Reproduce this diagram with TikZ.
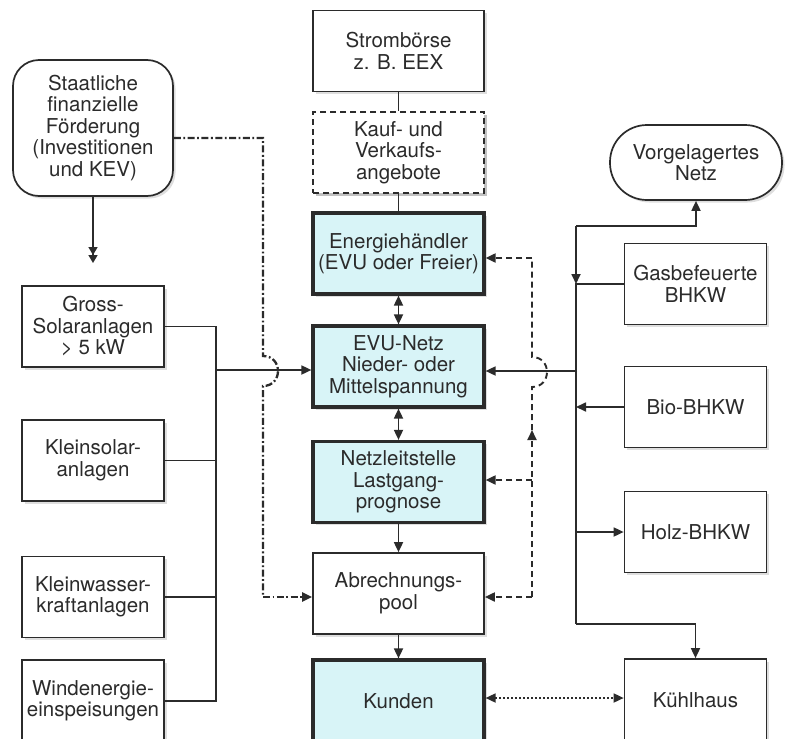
\documentclass[tikz,border=0pt]{standalone}
\usepackage{fontspec}
\setmainfont{TeX Gyre Heros}
\usetikzlibrary{arrows.meta,shadows}
\definecolor{ink}{HTML}{2B2B2B}
\definecolor{boxblue}{RGB}{216,244,247}
\begin{document}
\begin{tikzpicture}[x=1pt,y=-1pt,
  >={Triangle[length=10pt,width=9pt]},
  every node/.style={text=ink, font=\fontsize{20.5}{21.5}\selectfont, align=center, inner sep=0pt},
  shad/.style={drop shadow={shadow xshift=2.5pt,shadow yshift=-2.5pt,fill=black,opacity=0.13}},
  plainbox/.style={draw=ink, line width=1.7pt, fill=white, minimum width=142pt, minimum height=81pt, shad},
  centerbox/.style={plainbox, minimum width=171pt},
  bluebox/.style={centerbox, line width=3.2pt, fill=boxblue},
  dashbox/.style={centerbox, dashed, dash pattern=on 6pt off 4pt, line width=1.5pt, shad},
  roundbox/.style={plainbox, rounded corners=26pt, minimum width=160pt, minimum height=136pt},
  stadium/.style={plainbox, rounded corners=37pt, minimum width=172pt, minimum height=75pt},
  conn/.style={draw=ink, line width=1.7pt},
  dline/.style={draw=ink, line width=1.9pt, dash pattern=on 6pt off 4pt},
  ddline/.style={draw=ink, line width=2.3pt, dash pattern=on 7pt off 2.5pt on 1.8pt off 2.5pt},
  dotline/.style={draw=ink, line width=1.7pt, dash pattern=on 2pt off 2pt}
]
\fill[white] (0,0) rectangle (785,739);
\useasboundingbox (0,0) rectangle (785,739);

% centre column
\node[centerbox] (strom) at (398.5,51) {Strombörse\\z. B. EEX};
\node[dashbox] (kauf) at (398.5,152.5) {Kauf- und\\Verkaufs-\\angebote};
\node[bluebox] (energie) at (398.5,253.5) {Energiehändler\\(EVU oder Freier)};
\node[bluebox] (evu) at (398.5,366.5) {EVU-Netz\\Nieder- oder\\Mittelspannung};
\node[bluebox] (netz) at (398.5,482) {Netzleitstelle\\Lastgang-\\prognose};
\node[centerbox] (abrech) at (398.5,593.5) {Abrechnungs-\\pool};
\node[bluebox, minimum height=82pt] (kunden) at (398.5,701) {Kunden};

% left column
\node[roundbox] (staat) at (93,128) {Staatliche\\finanzielle\\Förderung\\(Investitionen\\und KEV)};
\node[plainbox] (gross) at (93,326.5) {Gross-\\Solaranlagen\\> 5 kW};
\node[plainbox] (ksolar) at (93,460.5) {Kleinsolar-\\anlagen};
\node[plainbox] (kwasser) at (93,597) {Kleinwasser-\\kraftanlagen};
\node[plainbox, minimum height=82pt] (wind) at (93,701) {Windenergie-\\einspeisungen};

% right column
\node[stadium] (vorg) at (696,162.5) {Vorgelagertes\\Netz};
\node[plainbox] (gas) at (695.5,284) {Gasbefeuerte\\BHKW};
\node[plainbox] (bio) at (695.5,407) {Bio-BHKW};
\node[plainbox] (holz) at (695.5,532) {Holz-BHKW};
\node[plainbox, minimum height=82pt] (kuehl) at (695.5,700) {Kühlhaus};

% coordinates
\coordinate (sEnd) at (93,263);
\coordinate (lbTop) at (216,326.5);
\coordinate (lbIn) at (216,370);
\coordinate (lbBot) at (216,701);
\coordinate (ddA) at (263,138);
\coordinate (ddB) at (263,597);
\coordinate (dR1) at (532,258);
\coordinate (dR2) at (532,480);
\coordinate (dR3) at (532,597);
\coordinate (dRm) at (532,430);
\coordinate (rbTop) at (576,226);
\coordinate (rbGas) at (576,284);
\coordinate (rbIn) at (577,371);
\coordinate (rbBio) at (576,407);
\coordinate (rbHolz) at (576,532);
\coordinate (rbBot) at (576,624);

% centre connectors
\draw[conn] (strom.south) -- (kauf.north);
\draw[conn] (kauf.south) -- (energie.north);
\draw[conn,<->] (energie.south) -- (evu.north);
\draw[conn,<->] (evu.south) -- (netz.north);
\draw[conn,->] (netz.south) -- (abrech.north);
\draw[conn,->] (abrech.south) -- (kunden.north);
\draw[dotline,<->] (kunden.east |- 0,698) -- (kuehl.west |- 0,698);

% left connectors
\draw[conn,-{Triangle[length=8pt,width=9pt]Triangle[length=8pt,width=9pt]}] (staat.south) -- (sEnd);
\draw[conn] (gross.east |- lbTop) -- (lbTop) -- (lbBot) -- (wind.east |- lbBot);
\draw[conn] (ksolar.east) -- (ksolar.east -| lbTop);
\draw[conn] (kwasser.east) -- (kwasser.east -| lbTop);
\draw[conn,->] (lbIn) -- (evu.west |- lbIn);

% dash-dot line with hop
\draw[ddline] ([yshift=-10pt]staat.east) -- (ddA) -- (263,356)
  .. controls (283,356) and (283,386) .. (263,386) -- (ddB);
\draw[ddline,->] (ddB) -- (abrech.west |- ddB);

% right dashed feedback line with hop
\draw[dline,->] (dR3) -- (dRm);
\draw[dline] (dRm) -- (532,387)
  .. controls (552,387) and (552,357) .. (532,357) -- (dR1);
\draw[dline,->] (dR1) -- (energie.east |- dR1);
\draw[dline,->] (dR2) -- (netz.east |- dR2);
\draw[dline,->] (dR3) -- (abrech.east |- dR3);

% right bus
\draw[conn,->] (rbTop) -- (rbTop -| vorg.south) -- (vorg.south);
\draw[conn,->] (rbTop) -- (rbGas);
\draw[conn] (gas.west) -- (rbGas) -- (rbBot);
\draw[conn,->] (rbBot) -- (rbBot -| kuehl.north) -- (kuehl.north);
\draw[conn,->] (rbIn) -- (evu.east |- rbIn);
\draw[conn,->] (bio.west) -- (rbBio);
\draw[conn,->] (rbHolz) -- (holz.west);
\end{tikzpicture}
\end{document}
